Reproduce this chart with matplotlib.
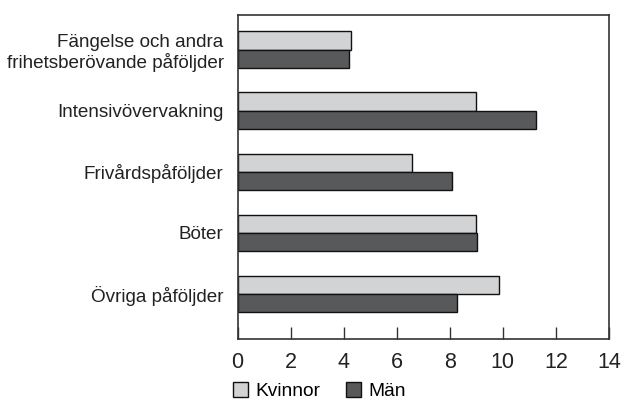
import matplotlib
matplotlib.use("Agg")
import matplotlib.pyplot as plt
import numpy as np
from matplotlib.patches import Patch

categories = ["Fängelse och andra\nfrihetsberövande påföljder",
              "Intensivövervakning",
              "Frivårdspåföljder",
              "Böter",
              "Övriga påföljder"]
kvinnor = [4.28, 8.98, 6.58, 8.98, 9.85]
man = [4.21, 11.24, 8.10, 9.02, 8.26]
xticks = [0, 2, 4, 6, 8, 10, 12, 14]

plt.rcParams['font.family'] = ['Liberation Sans', 'DejaVu Sans']

fig = plt.figure(figsize=(6.22, 4.0), dpi=100)
ax = fig.add_axes([0.382, 0.1525, 0.597, 0.81])

n = len(categories)
y = np.arange(n)[::-1]
h = 0.30
c_k = "#d2d3d5"
c_m = "#58595b"
ax.barh(y + h / 2, kvinnor, height=h, color=c_k, edgecolor="#111111", linewidth=1.0)
ax.barh(y - h / 2, man, height=h, color=c_m, edgecolor="#111111", linewidth=1.0)

ax.set_xlim(0, 14)
ax.set_ylim(-0.74, n - 1 + 0.57)
ax.set_yticks(y)
ax.set_yticklabels(categories, fontsize=13.6, color="#222222", linespacing=1.15)
ax.tick_params(axis='y', length=0, pad=10)
ax.set_xticks(xticks)
ax.set_xticklabels([str(t) for t in xticks], fontsize=15.5, color="#222222")
ax.tick_params(axis='x', direction='in', length=9, width=1, color="#333333", pad=9)
for s in ax.spines.values():
    s.set_color("#333333")
    s.set_linewidth(1.2)

handles = [Patch(facecolor=c_k, edgecolor="#111111", label="Kvinnor"),
           Patch(facecolor=c_m, edgecolor="#111111", label="Män")]
fig.legend(handles=handles, loc="center left", bbox_to_anchor=(0.362, 0.022),
           ncol=2, frameon=False, fontsize=13.8, handlelength=0.8, handleheight=0.85,
           handletextpad=0.4, columnspacing=1.3, borderaxespad=0)

fig.savefig("out.png", dpi=100)
